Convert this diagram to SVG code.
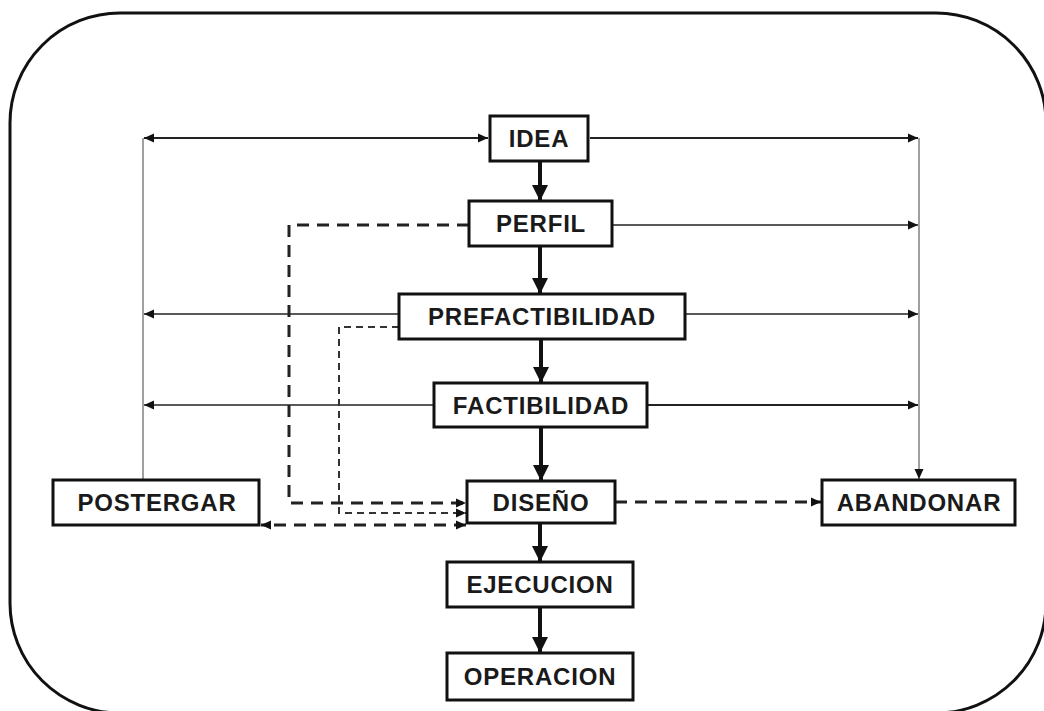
<svg xmlns="http://www.w3.org/2000/svg" width="1044" height="711" viewBox="0 0 1044 711">
  <defs>
    <style>
      .frame { fill: none; stroke: #111; stroke-width: 3; }
      .box { fill: #fff; stroke: #111; stroke-width: 3; }
      .lbl { font-family: "Liberation Sans", Arial, sans-serif; font-weight: bold; font-size: 24px; letter-spacing: 0.8px; fill: #1a1a1a; text-anchor: middle; }
      .main { fill: none; stroke: #111; stroke-width: 4; }
      .thin { fill: none; stroke: #222; stroke-width: 1.5; }
      .side { fill: none; stroke: #222; stroke-width: 2; }
      .grey { fill: none; stroke: #888; stroke-width: 1.6; }
      .dash { fill: none; stroke: #222; stroke-width: 3; stroke-dasharray: 12 8; }
      .dash-fine { fill: none; stroke: #333; stroke-width: 2; stroke-dasharray: 7 5; }
    </style>
    <marker id="big" markerUnits="userSpaceOnUse" markerWidth="18" markerHeight="18" refX="16" refY="9" orient="auto">
      <path d="M0,1 L16,9 L0,17 Z" fill="#111"/>
    </marker>
    <marker id="small" markerUnits="userSpaceOnUse" markerWidth="12" markerHeight="12" refX="10" refY="6" orient="auto-start-reverse">
      <path d="M0,1.5 L10,6 L0,10.5 Z" fill="#111"/>
    </marker>
  </defs>

  <rect class="frame" x="10" y="13" width="1036" height="700" rx="110" ry="110"/>

  <g id="connectors">
    <!-- main flow -->
    <line class="main" x1="540" y1="161" x2="540" y2="201" marker-end="url(#big)"/>
    <line class="main" x1="540" y1="246" x2="540" y2="294" marker-end="url(#big)"/>
    <line class="main" x1="541" y1="339" x2="541" y2="383" marker-end="url(#big)"/>
    <line class="main" x1="541" y1="427" x2="541" y2="481" marker-end="url(#big)"/>
    <line class="main" x1="540" y1="523" x2="540" y2="562" marker-end="url(#big)"/>
    <line class="main" x1="540" y1="607" x2="540" y2="653" marker-end="url(#big)"/>

    <!-- left side: postergar -->
    <line class="grey" x1="143" y1="480" x2="143" y2="138"/>
    <line class="side" x1="488" y1="138" x2="144" y2="138" marker-start="url(#small)" marker-end="url(#small)"/>
    <line class="thin" x1="399" y1="314" x2="144" y2="314" marker-end="url(#small)"/>
    <line class="thin" x1="434" y1="405" x2="144" y2="405" marker-end="url(#small)"/>

    <!-- right side: abandonar -->
    <line class="side" x1="590" y1="138" x2="918" y2="138" marker-end="url(#small)"/>
    <line class="grey" x1="919" y1="138" x2="919" y2="479" marker-end="url(#small)"/>
    <line class="thin" x1="612" y1="225" x2="918" y2="225" marker-end="url(#small)"/>
    <line class="thin" x1="685" y1="314" x2="918" y2="314" marker-end="url(#small)"/>
    <line class="side" x1="647" y1="405" x2="918" y2="405" marker-end="url(#small)"/>

    <!-- dashed returns into diseño -->
    <path class="dash" d="M469,225 H289 V503 H466" marker-end="url(#small)"/>
    <path class="dash-fine" d="M399,327 H339 V513 H466" marker-end="url(#small)"/>
    <line class="dash" x1="466" y1="525" x2="261" y2="525" marker-start="url(#small)" marker-end="url(#small)"/>
    <line class="dash" x1="615" y1="502" x2="821" y2="502" marker-end="url(#small)"/>
  </g>

  <g id="idea">
    <rect class="box" x="490" y="116" width="98" height="45"/>
    <text class="lbl" x="539" y="147">IDEA</text>
  </g>
  <g id="perfil">
    <rect class="box" x="469" y="201" width="143" height="45"/>
    <text class="lbl" x="541" y="232">PERFIL</text>
  </g>
  <g id="prefactibilidad">
    <rect class="box" x="399" y="294" width="286" height="45"/>
    <text class="lbl" x="542" y="325">PREFACTIBILIDAD</text>
  </g>
  <g id="factibilidad">
    <rect class="box" x="434" y="383" width="213" height="44"/>
    <text class="lbl" x="541" y="414">FACTIBILIDAD</text>
  </g>
  <g id="diseno">
    <rect class="box" x="467" y="481" width="148" height="42"/>
    <text class="lbl" x="541" y="511">DISEÑO</text>
  </g>
  <g id="ejecucion">
    <rect class="box" x="447" y="562" width="186" height="45"/>
    <text class="lbl" x="540" y="593">EJECUCION</text>
  </g>
  <g id="operacion">
    <rect class="box" x="447" y="653" width="186" height="47"/>
    <text class="lbl" x="540" y="685">OPERACION</text>
  </g>
  <g id="postergar">
    <rect class="box" x="53" y="480" width="206" height="45"/>
    <text class="lbl" x="157" y="511">POSTERGAR</text>
  </g>
  <g id="abandonar">
    <rect class="box" x="822" y="480" width="193" height="45"/>
    <text class="lbl" x="919" y="511">ABANDONAR</text>
  </g>
</svg>
